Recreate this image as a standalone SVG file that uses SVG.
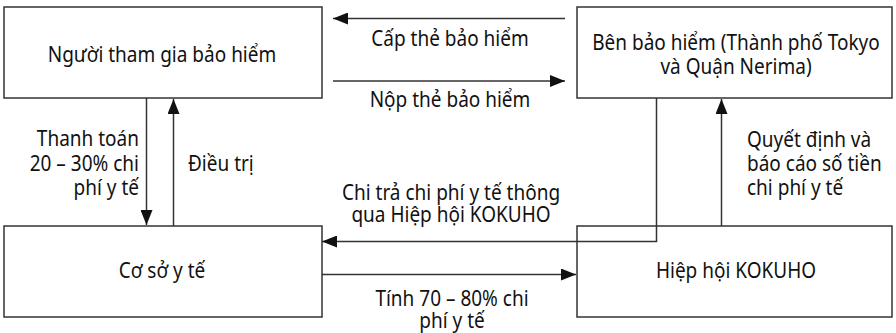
<svg xmlns="http://www.w3.org/2000/svg" width="896" height="333" viewBox="0 0 896 333">
<defs>
<style>
.box{fill:#fff;stroke:#333;stroke-width:1.5}
.ln{fill:none;stroke:#333;stroke-width:1.5}
text{font-family:"Noto Sans","Open Sans","DejaVu Sans",sans-serif;font-size:19px;fill:#111}
.c{text-anchor:middle}
.r{text-anchor:end}
</style>
<marker id="ah" markerUnits="userSpaceOnUse" markerWidth="16" markerHeight="12" refX="15" refY="6" orient="auto">
<path d="M0,0 L15,6 L0,12 Z" fill="#111"/>
</marker>
</defs>
<rect width="896" height="333" fill="#fff"/>
<g id="connectors">
<line class="ln" x1="565" y1="18.5" x2="333" y2="18.5" marker-end="url(#ah)"/>
<line class="ln" x1="333" y1="81" x2="565" y2="81" marker-end="url(#ah)"/>
<line class="ln" x1="146.5" y1="98" x2="146.5" y2="225" marker-end="url(#ah)"/>
<line class="ln" x1="173.5" y1="226" x2="173.5" y2="99" marker-end="url(#ah)"/>
<polyline class="ln" points="656.5,98 656.5,241.5 322,241.5" marker-end="url(#ah)"/>
<line class="ln" x1="721.5" y1="226" x2="721.5" y2="99" marker-end="url(#ah)"/>
<line class="ln" x1="322" y1="274.5" x2="576" y2="274.5" marker-end="url(#ah)"/>
<text class="c" transform="translate(450,46) scale(1,1.1)">Cấp thẻ bảo hiểm</text>
<text class="c" transform="translate(450,107) scale(1,1.1)">Nộp thẻ bảo hiểm</text>
<text class="r" transform="translate(139,146) scale(1,1.1)"><tspan x="0" y="0">Thanh toán</tspan><tspan x="0" y="22.3">20 – 30% chi</tspan><tspan x="0" y="44.5">phí y tế</tspan></text>
<text transform="translate(188,170.5) scale(1,1.1)">Điều trị</text>
<text transform="translate(747,146.5) scale(1,1.1)"><tspan x="0" y="0">Quyết định và</tspan><tspan x="0" y="22.3">báo cáo số tiền</tspan><tspan x="0" y="44.5">chi phí y tế</tspan></text>
<text class="c" transform="translate(451,200) scale(1,1.1)"><tspan x="0" y="0">Chi trả chi phí y tế thông</tspan><tspan x="0" y="20">qua Hiệp hội KOKUHO</tspan></text>
<text class="c" transform="translate(452,305.5) scale(1,1.1)"><tspan x="0" y="0">Tính 70 – 80% chi</tspan><tspan x="0" y="20.5">phí y tế</tspan></text>
</g>
<g id="n1"><rect class="box" x="4" y="7" width="318" height="91"/><text class="c" transform="translate(162,62) scale(1,1.1)">Người tham gia bảo hiểm</text></g>
<g id="n2"><rect class="box" x="577" y="7" width="315" height="91"/><text class="c" transform="translate(736,49.5) scale(1,1.1)"><tspan x="0" y="0">Bên bảo hiểm (Thành phố Tokyo</tspan><tspan x="0" y="22.7">và Quận Nerima)</tspan></text></g>
<g id="n3"><rect class="box" x="4" y="226" width="318" height="91"/><text class="c" transform="translate(162,278) scale(1,1.1)">Cơ sở y tế</text></g>
<g id="n4"><rect class="box" x="577" y="226" width="315" height="91" style="fill:none"/><text class="c" transform="translate(736,278) scale(1,1.1)">Hiệp hội KOKUHO</text></g>
</svg>
